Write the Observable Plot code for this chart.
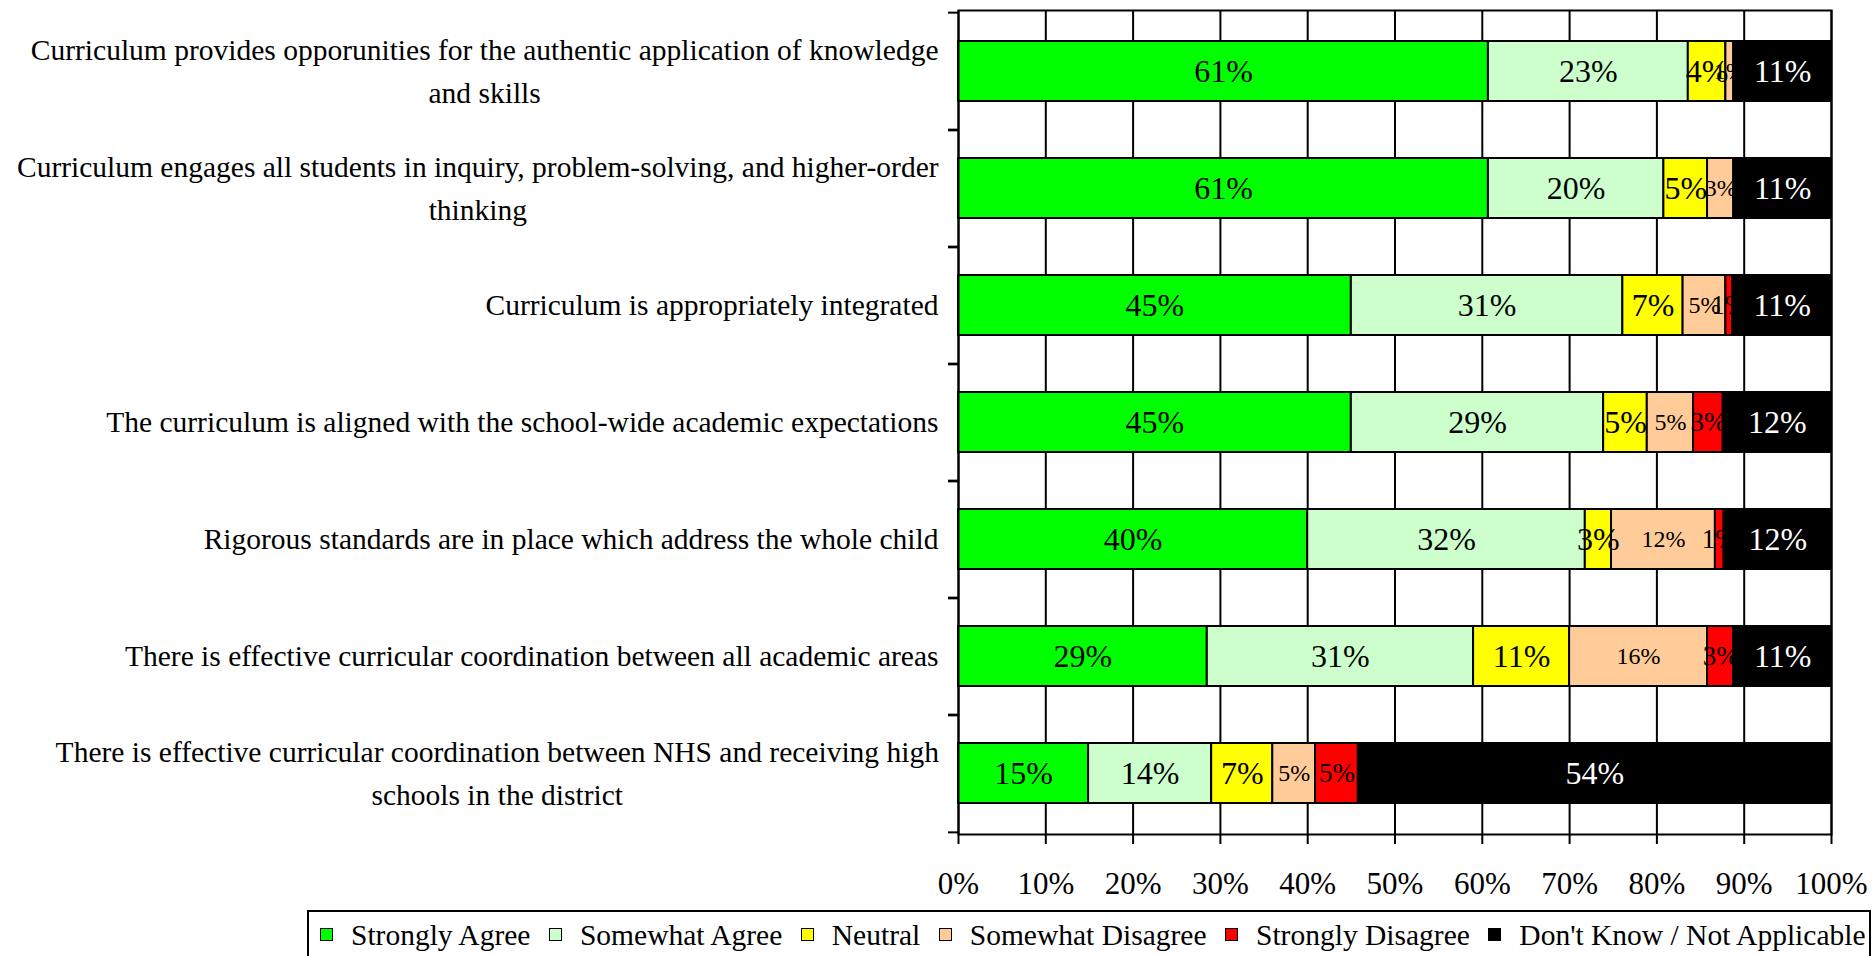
<!DOCTYPE html>
<html>
<head>
<meta charset="utf-8">
<script src="https://cdn.jsdelivr.net/npm/d3@7"></script>
<script src="https://cdn.jsdelivr.net/npm/@observablehq/plot@0.6"></script>
<style>
  body { margin: 0; background: #fff; overflow: hidden; }
  #legend {
    margin-left: 307px; margin-top: 5px; width: 1564px; height: 60px;
    border: 2px solid #000; box-sizing: border-box;
    display: flex; align-items: center; padding-left: 11px;
    font-family: "Liberation Serif", "Times New Roman", serif; font-size: 29.5px; color: #000;
    white-space: nowrap;
  }
  #legend .item { display: flex; align-items: center; margin-right: 18.5px; position: relative; top: -5px; }
  #legend .sw { width: 11px; height: 11px; border: 1.5px solid #000; margin-right: 18px; position: relative; top: -1px; }
</style>
</head>
<body>
<div id="chart"></div>
<div id="legend"></div>
<script>
const questions = [
  "Curriculum provides opporunities for the authentic application of knowledge\nand skills",
  "Curriculum engages all students in inquiry, problem-solving, and higher-order\nthinking",
  "Curriculum is appropriately integrated",
  "The curriculum is aligned with the school-wide academic expectations",
  "Rigorous standards are in place which address the whole child",
  "There is effective curricular coordination between all academic areas",
  "There is effective curricular coordination between NHS and receiving high\nschools in the district"
];
const seriesNames = ["Strongly Agree", "Somewhat Agree", "Neutral", "Somewhat Disagree", "Strongly Disagree", "Don't Know / Not Applicable"];
const seriesColors = ["#00ff00", "#ccffcc", "#ffff00", "#ffcc99", "#ff0000", "#000000"];
const stronglyAgree    = [60.7, 60.7, 45.0, 45.0, 40.0, 28.5, 14.9];
const somewhatAgree    = [22.9, 20.1, 31.1, 28.9, 31.8, 30.5, 14.1];
const neutral          = [4.3, 5.0, 6.9, 5.0, 3.0, 11.0, 7.0];
const somewhatDisagree = [0.9, 3.0, 4.9, 5.3, 11.9, 15.8, 4.9];
const stronglyDisagree = [0.0, 0.0, 0.8, 3.4, 1.0, 3.0, 4.9];
const dontKnow         = [11.2, 11.2, 11.3, 12.4, 12.3, 11.2, 54.2];
const xTicks = [0, 10, 20, 30, 40, 50, 60, 70, 80, 90, 100];

const seriesValues = [stronglyAgree, somewhatAgree, neutral, somewhatDisagree, stronglyDisagree, dontKnow];
const table = questions.flatMap((q, i) =>
  seriesValues.map((vals, j) => ({question: q, series: seriesNames[j], value: vals[i]}))
).filter(d => d.value > 0);

const W = 1873, H = 905, mt = 10, mb = 71, ml = 958, mr = 42;
const step = (H - mt - mb) / questions.length;
const labelSize = {"Somewhat Disagree": 24, "Strongly Disagree": 27};
const pct = d => d + "%";

const plot = Plot.plot({
  width: W, height: H,
  marginTop: mt, marginBottom: mb, marginLeft: ml, marginRight: mr,
  style: {fontFamily: "'Liberation Serif', 'Times New Roman', serif", fontSize: "30px", background: "#fff", color: "#000"},
  x: {domain: [0, 100], ticks: xTicks, tickFormat: pct, label: null},
  y: {domain: questions, paddingInner: 0.49, paddingOuter: 0.245, label: null},
  color: {domain: seriesNames, range: seriesColors},
  marks: [
    Plot.gridX(xTicks, {stroke: "#000", strokeOpacity: 1, strokeWidth: 2}),
    Plot.barX(table, Plot.stackX({x: "value", y: "question", fill: "series", stroke: "#000", strokeWidth: 2})),
    Plot.text(table, Plot.stackX({
      x: "value", y: "question", z: "series",
      text: d => Math.round(d.value) + "%",
      fill: d => d.series === seriesNames[5] ? "white" : "black",
      fontSize: d => labelSize[d.series] ?? 32
    })),
    Plot.frame({stroke: "#000", strokeWidth: 2}),
    Plot.axisX({ticks: xTicks, tickSize: 10, tickPadding: 27, fontSize: 31, tickFormat: pct, strokeWidth: 2}),
    Plot.axisY({tickSize: 0, tickPadding: 20, fontSize: 29.5, lineHeight: 1.45, dy: -4}),
    Plot.axisY({tickSize: 10, tickFormat: () => "", dy: -step / 2, strokeWidth: 2}),
    Plot.axisY({tickSize: 10, tickFormat: () => "", dy: step / 2, strokeWidth: 2})
  ]
});
document.getElementById("chart").appendChild(plot);

// center the lines of wrapped category labels on each other (block stays right-aligned)
d3.select(plot).selectAll('g[aria-label="y-axis tick label"] text').each(function () {
  const tspans = this.querySelectorAll("tspan");
  if (tspans.length < 2) return;
  const b = this.getBBox();
  const cx = b.x + b.width / 2;
  this.setAttribute("text-anchor", "middle");
  tspans.forEach(t => t.setAttribute("x", cx));
});

// legend
const color = plot.scale("color");
const legend = d3.select("#legend");
seriesNames.forEach((name, i) => {
  const item = legend.append("div").attr("class", "item");
  item.append("div").attr("class", "sw").style("background", color.range[i]);
  item.append("span").text(name);
});
</script>
</body>
</html>
